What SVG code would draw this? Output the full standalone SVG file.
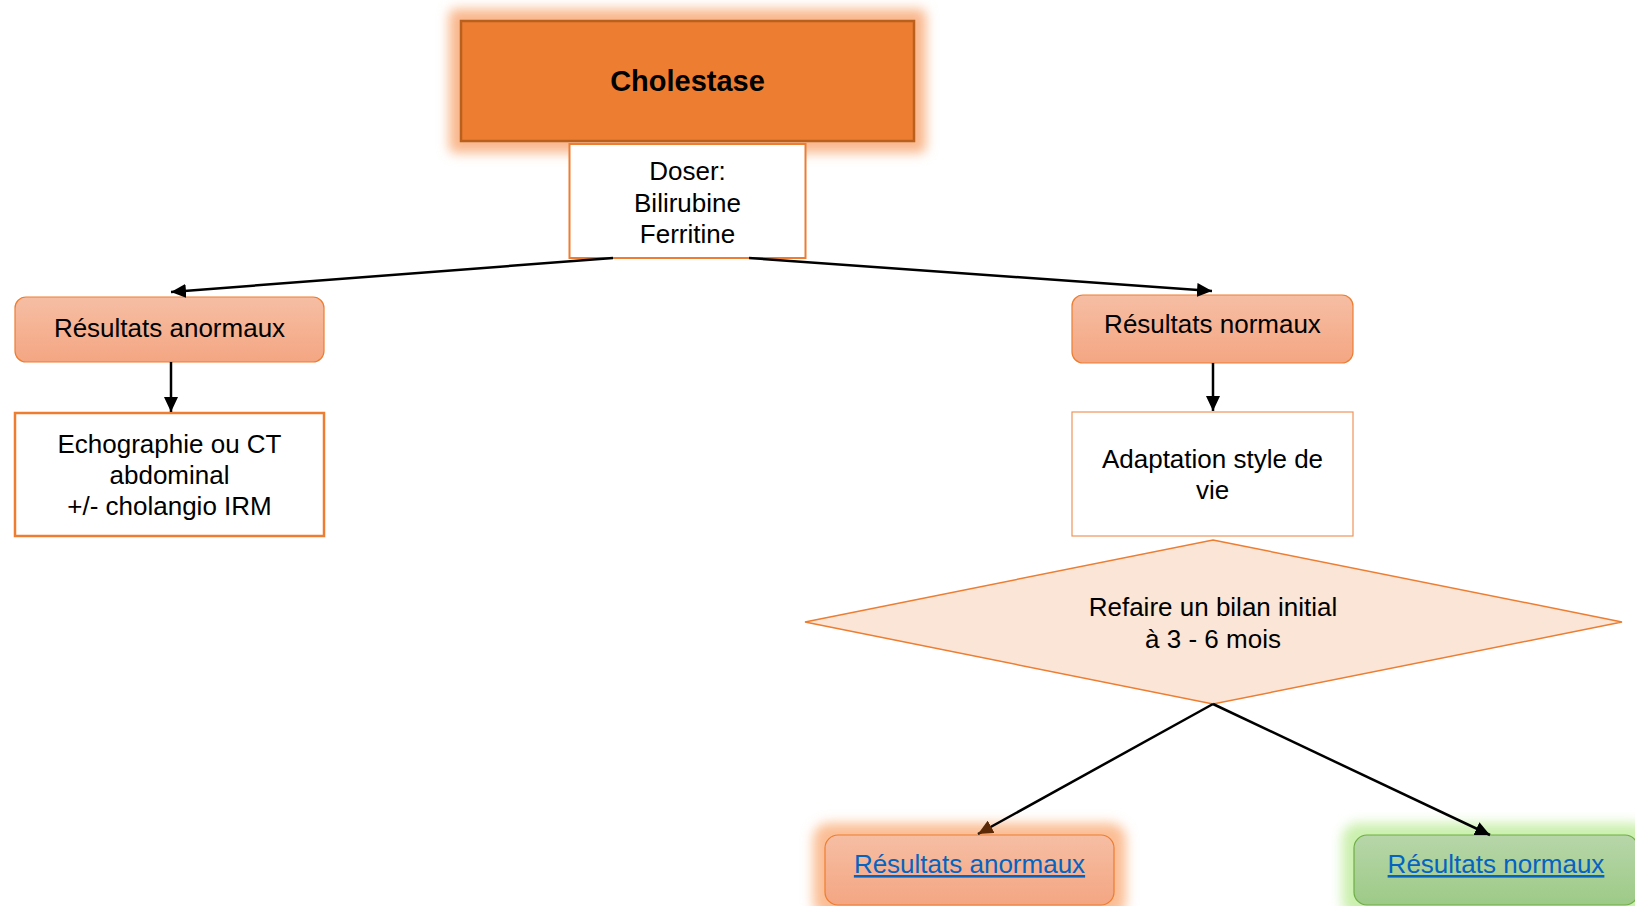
<svg xmlns="http://www.w3.org/2000/svg" width="1635" height="906" viewBox="0 0 1635 906">
  <defs>
    <style>
      text { font-family: "Liberation Sans", Arial, sans-serif; font-size: 26px; fill: #000; text-anchor: middle; }
      .title { font-weight: bold; font-size: 29px; }
      .link { fill: #0563C1; text-decoration: underline; }
      .conn { stroke: #000; stroke-width: 2.5; fill: none; marker-end: url(#arrow); }
      .conn2 { stroke: #000; stroke-width: 2.5; fill: none; marker-end: url(#arrowBrown); }
      .pill { fill: url(#gradOrange); stroke: #ED7D31; stroke-width: 1.2; }
      .pillGreen { fill: url(#gradGreen); stroke: #70AD47; stroke-width: 1.2; }
    </style>
    <linearGradient id="gradOrange" x1="0" y1="0" x2="0" y2="1">
      <stop offset="0" stop-color="#F6BEA4"/>
      <stop offset="1" stop-color="#F4A682"/>
    </linearGradient>
    <linearGradient id="gradGreen" x1="0" y1="0" x2="0" y2="1">
      <stop offset="0" stop-color="#B7D6A9"/>
      <stop offset="1" stop-color="#9DCA87"/>
    </linearGradient>
    <filter id="blur" x="-20%" y="-40%" width="140%" height="180%">
      <feGaussianBlur stdDeviation="6"/>
    </filter>
    <marker id="arrow" markerUnits="userSpaceOnUse" markerWidth="16" markerHeight="14" refX="15" refY="7" orient="auto">
      <path d="M0,0 L15,7 L0,14 z" fill="#000"/>
    </marker>
    <marker id="arrowBrown" markerUnits="userSpaceOnUse" markerWidth="16" markerHeight="14" refX="15" refY="7" orient="auto">
      <path d="M0,0 L15,7 L0,14 z" fill="#5C2A06"/>
    </marker>
  </defs>

  <rect width="1635" height="906" fill="#FFFFFF"/>

  <g id="cholestase">
    <rect x="449" y="9" width="477" height="144" rx="6" fill="#F9B78C" filter="url(#blur)"/>
    <rect x="461" y="21" width="453" height="120" fill="#ED7D31" stroke="#B9601F" stroke-width="2.5"/>
    <text class="title" x="687.5" y="91">Cholestase</text>
  </g>

  <g id="doser">
    <rect x="569.5" y="144" width="236" height="114" fill="#FFFFFF" stroke="#ED7D31" stroke-width="2"/>
    <text x="687.5" y="180">Doser:</text>
    <text x="687.5" y="212">Bilirubine</text>
    <text x="687.5" y="243">Ferritine</text>
  </g>

  <g id="resultats-anormaux">
    <rect class="pill" x="15" y="297" width="309" height="65" rx="11"/>
    <text x="169.5" y="337">Résultats anormaux</text>
  </g>

  <g id="echographie">
    <rect x="15" y="413" width="309" height="123" fill="#FFFFFF" stroke="#ED7D31" stroke-width="2.5"/>
    <text x="169.5" y="453">Echographie ou CT</text>
    <text x="169.5" y="484">abdominal</text>
    <text x="169.5" y="515">+/- cholangio IRM</text>
  </g>

  <g id="resultats-normaux">
    <rect class="pill" x="1072" y="295" width="281" height="68" rx="11"/>
    <text x="1212.5" y="333">Résultats normaux</text>
  </g>

  <g id="adaptation">
    <rect x="1072" y="412" width="281" height="124" fill="#FFFFFF" stroke="#F0945A" stroke-width="1.2"/>
    <text x="1212.5" y="468">Adaptation style de</text>
    <text x="1212.5" y="499">vie</text>
  </g>

  <g id="refaire">
    <polygon points="1213,540 1622,622 1213,704 805,622" fill="#FBE5D6" stroke="#ED7D31" stroke-width="1.5"/>
    <text x="1213" y="616">Refaire un bilan initial</text>
    <text x="1213" y="648">à 3 - 6 mois</text>
  </g>

  <g id="bottom-anormaux">
    <rect x="813" y="823" width="313" height="94" rx="16" fill="#FBBE94" filter="url(#blur)"/>
    <rect class="pill" x="825" y="835" width="289" height="70" rx="13"/>
    <text class="link" x="969.5" y="873">Résultats anormaux</text>
  </g>

  <g id="bottom-normaux">
    <rect x="1342" y="823" width="308" height="94" rx="16" fill="#CBF0AE" filter="url(#blur)"/>
    <rect class="pillGreen" x="1354" y="835" width="284" height="70" rx="13"/>
    <text class="link" x="1496" y="873">Résultats normaux</text>
  </g>

  <g id="connectors">
    <line class="conn" x1="613" y1="258" x2="171" y2="292"/>
    <line class="conn" x1="749" y1="258" x2="1212" y2="291"/>
    <line class="conn" x1="171" y1="362" x2="171" y2="412"/>
    <line class="conn" x1="1213" y1="363" x2="1213" y2="411"/>
    <line class="conn2" x1="1213" y1="704" x2="978" y2="834"/>
    <line class="conn" x1="1213" y1="704" x2="1490" y2="835"/>
  </g>
</svg>
